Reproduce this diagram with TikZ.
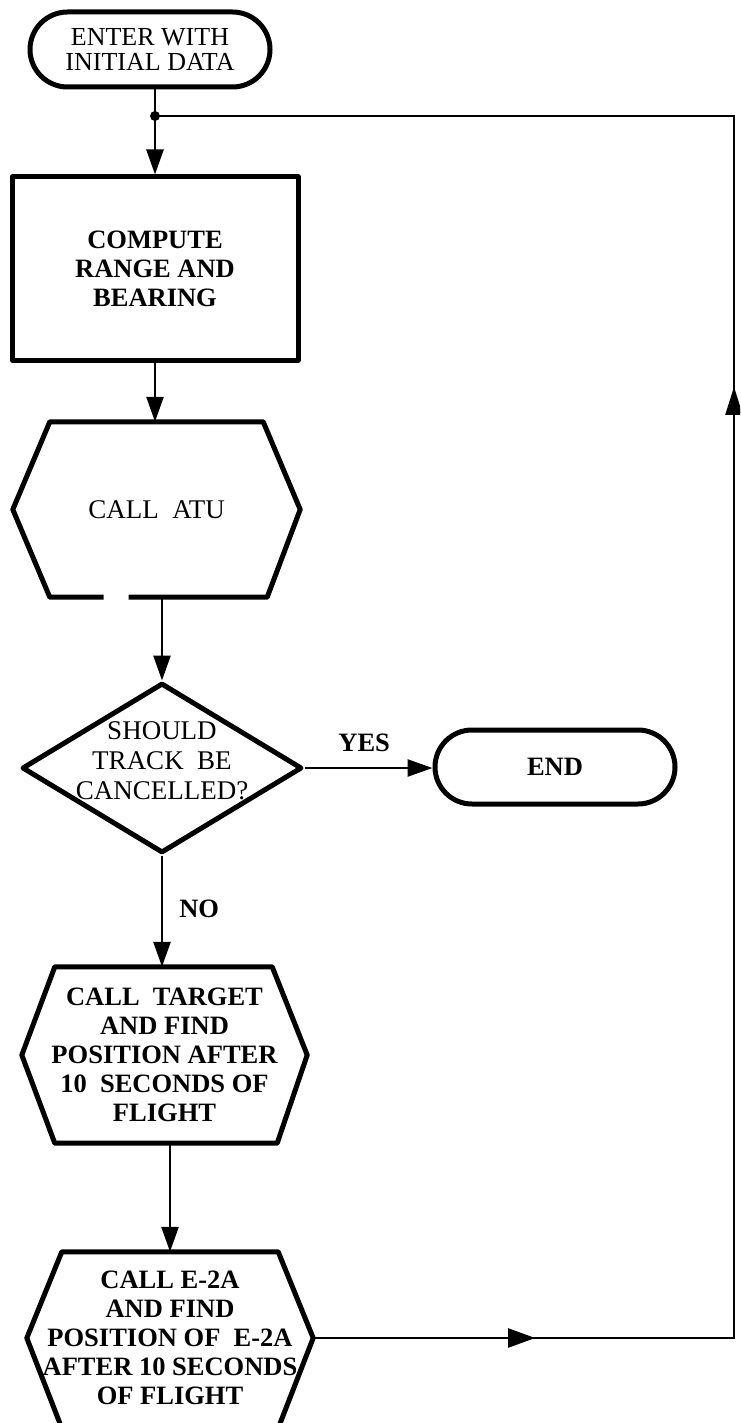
\documentclass[tikz,border=0pt]{standalone}
\usepackage{fontspec}
\setmainfont{Liberation Serif}
\usetikzlibrary{shapes.misc,shapes.geometric,arrows.meta,calc,decorations.markings}
\tikzset{
  flowline/.style={line width=2.6pt},
  loopline/.style={line width=2.2pt},
  tipped/.style={-{Triangle[length=25pt,width=17pt]}},
  border/.style={line width=5pt, line join=round},
  termbox/.style={draw, border, rounded rectangle, minimum width=240pt, minimum height=75pt, inner sep=0pt},
  procbox/.style={draw, border, rectangle, minimum width=286pt, minimum height=183pt, inner sep=0pt},
  hexbox/.style={rectangle, inner sep=0pt, align=center},
  txt/.style={font=\fontsize{27}{29}\selectfont, align=center, inner sep=0pt},
  btxt/.style={font=\fontsize{26.5}{29}\selectfont\bfseries, align=center, inner sep=0pt},
}
\begin{document}
\begin{tikzpicture}[x=1pt,y=-1pt]
\useasboundingbox (0,0) rectangle (740,1423);
\clip (0,0) rectangle (740,1423);

% start terminal
\node[termbox, font=\fontsize{26}{25}\selectfont, align=center] (start) at (150,49.5) {ENTER WITH\\INITIAL DATA};

% compute box
\node[procbox, btxt] (compute) at (155,268.5) {COMPUTE\\RANGE AND\\BEARING};

% call ATU hexagon
\node[hexbox, txt, minimum width=287pt, minimum height=175pt] (atu) at (156.5,509.5) {CALL\ \ ATU};
\draw[border] ($(atu.south)+(-28,0)$) -- ($(atu.south east)+(-33,0)$) -- (atu.east)
  -- ($(atu.north east)+(-37,0)$) -- ($(atu.north west)+(37,0)$) -- (atu.west)
  -- ($(atu.south west)+(37,0)$) -- ($(atu.south)+(-53,0)$);

% decision
\node[draw, border, diamond, minimum width=280pt, minimum height=170pt, inner sep=0pt] (dec) at (162,768) {};
\node[txt, font=\fontsize{27}{30}\selectfont] (dectext) at ($(dec.center)+(0,-7)$) {SHOULD\\TRACK\ \ BE\\CANCELLED?};

% end terminal
\node[termbox, btxt, minimum width=240pt, minimum height=74pt] (end) at (555,767) {END};

% call target hexagon
\node[hexbox, btxt, minimum width=285pt, minimum height=176pt] (tgt) at (164.5,1055) {CALL\ \ TARGET\\AND FIND\\POSITION AFTER\\10\ \ SECONDS OF\\FLIGHT};
\draw[border] ($(tgt.north west)+(33,0)$) -- ($(tgt.north east)+(-35,0)$) -- (tgt.east)
  -- ($(tgt.south east)+(-30,0)$) -- ($(tgt.south west)+(33,0)$) -- (tgt.west) -- cycle;

% call E-2A hexagon
\node[hexbox, btxt, minimum width=286pt, minimum height=172pt] (e2a) at (170,1338) {CALL E-2A\\AND FIND\\POSITION OF\ \ E-2A\\AFTER 10 SECONDS\\OF FLIGHT};
\draw[border] ($(e2a.north west)+(35,0)$) -- ($(e2a.north east)+(-35,0)$) -- (e2a.east)
  -- ($(e2a.south east)+(-35,4)$) -- ($(e2a.south west)+(35,4)$) -- (e2a.west) -- cycle;

% connectors
\coordinate (j) at (155,116);
\coordinate (rx) at (734,116);
\draw[flowline] (start.south -| j) -- (j);
\draw[flowline, tipped] (j) -- (compute.north);
\fill (j) circle (5pt);
\draw[flowline, tipped] (compute.south) -- (compute.south |- atu.north);
\draw[flowline, tipped] (dec.north |- atu.south) -- (dec.north);
\draw[flowline, tipped] (dec.east) -- node[btxt, pos=0.466, anchor=south, yshift=15pt] (yes) {YES} (dec.east -| end.west);
\draw[flowline, tipped] (dec.south) -- node[btxt, pos=0.48, anchor=west, xshift=16pt] (no) {NO} (dec.south |- tgt.north);
\draw[flowline, tipped] (e2a.north |- tgt.south) -- (e2a.north);
\draw[loopline, decoration={markings,
    mark=at position 222pt with {\arrow{Triangle[length=27pt,width=19pt]}},
    mark=at position 1372pt with {\arrow{Triangle[length=28pt,width=17pt]}}},
  postaction={decorate}]
  (e2a.east) -- (e2a.east -| rx) -- (rx) -- (j);
\end{tikzpicture}
\end{document}
